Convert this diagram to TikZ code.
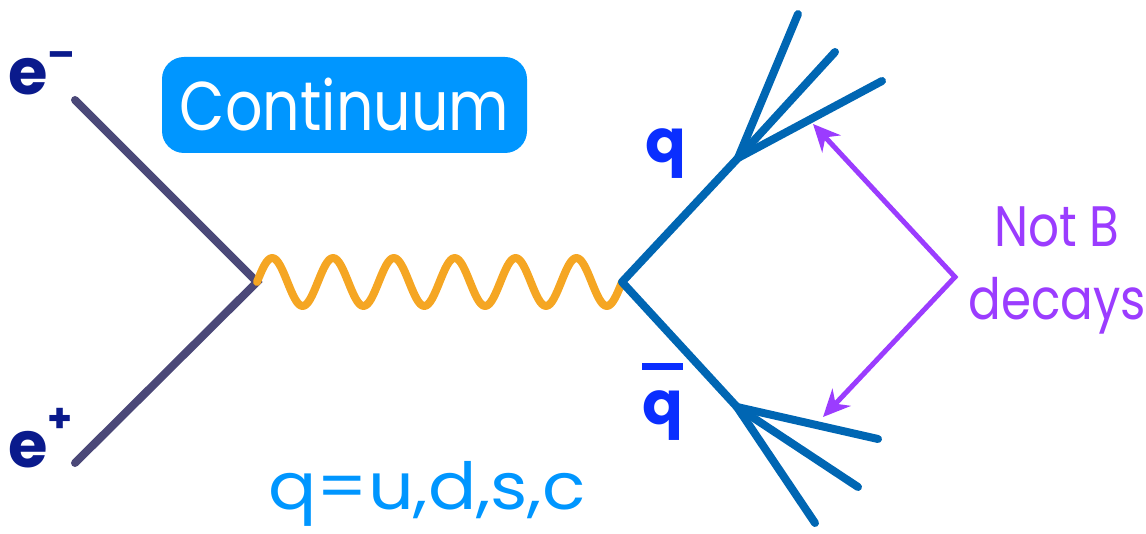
\documentclass[tikz,border=0pt]{standalone}
\usepackage{fontspec}
\setmainfont{Poppins}
\newfontfamily\narrowfont{Poppins}[FakeStretch=0.85]
\newfontfamily\widefont{Poppins}[FakeStretch=1.1]
\usetikzlibrary{arrows.meta}
\definecolor{lepton}{HTML}{4B4878}
\definecolor{boson}{HTML}{F5A623}
\definecolor{quark}{HTML}{0066B3}
\definecolor{qink}{HTML}{0A2EFF}
\definecolor{eink}{HTML}{0A1A8C}
\definecolor{contblue}{HTML}{0096FF}
\definecolor{notbink}{HTML}{9B3CFF}
\tikzset{
  fermion/.style={line width=8pt,line cap=round,lepton},
  quarkline/.style={line width=8pt,line cap=round,line join=round,quark},
  photonline/.style={line width=8pt,line cap=round,line join=round,boson},
  pointer/.style={{Stealth[length=27pt,width=25pt]}-{Stealth[length=27pt,width=25pt]},
    line width=5pt,notbink},
  elab/.style={font=\fontsize{64}{64}\selectfont\bfseries,text=eink,inner sep=0pt,anchor=base west},
  qlab/.style={font=\fontsize{60}{72}\selectfont\bfseries,text=qink,inner sep=0pt},
  tag/.style={fill=contblue,rounded corners=22pt,minimum width=365pt,minimum height=96pt,
    text=white,font=\narrowfont\fontsize{69}{69}\selectfont,inner sep=0pt},
  flavours/.style={font=\widefont\fontsize{65}{65}\selectfont,text=contblue,inner sep=0pt,anchor=base west},
  notb/.style={font=\narrowfont\fontsize{57}{73}\selectfont,text=notbink,inner sep=0pt,align=center}
}
\begin{document}
\begin{tikzpicture}[x=1pt,y=-1pt]
  \useasboundingbox (0,0) rectangle (1146,534);
  % vertices
  \coordinate (ein) at (75,100);
  \coordinate (pin) at (75,463);
  \coordinate (v1) at (257,282);
  \coordinate (v2) at (622,282);
  \coordinate (j1) at (738,158);
  \coordinate (j2) at (737,407);
  % jets
  \coordinate (ja) at (798,14);
  \coordinate (jb) at (835,52);
  \coordinate (jc) at (882,81);
  \coordinate (jd) at (878,439);
  \coordinate (je) at (858,487);
  \coordinate (jf) at (815,523);
  % annotation
  \coordinate (tipu) at (813,124);
  \coordinate (elbow) at (955,277);
  \coordinate (tipl) at (823,417);

  \draw[fermion] (ein) -- (v1) -- (pin);
  \draw[photonline] (v1) \foreach \k in {1,...,6}{
    sin ++(15.21,-24) cos ++(15.21,24) sin ++(15.21,24) cos ++(15.21,-24)} -- (v2);
  \draw[quarkline] (j1) -- (v2) -- (j2);
  \foreach \j in {ja,jb,jc} \draw[quarkline] (j1) -- (\j);
  \foreach \j in {jd,je,jf} \draw[quarkline] (j2) -- (\j);
  \draw[pointer] (tipu) -- (elbow) -- (tipl);

  \node[elab] (eminus) at (8,95) {e\raisebox{26pt}{\fontsize{40}{40}\selectfont –}};
  \node[elab] (eplus) at (8,467) {e\raisebox{35pt}{\fontsize{40}{40}\selectfont +}};
  \node[qlab,anchor=base west] (qlabel) at (645,163) {q};
  \node[qlab,anchor=south west,align=center] (qbarlabel) at (642,441) {\rule{41pt}{7pt}\\[-17.5pt]q};
  \node[tag] (cont) at (344.5,105) {Continuum};
  \node[flavours] (flav) at (268,509) {q=u,d,s,c};
  \node[notb,anchor=north] (notb) at (1057,207) {Not B\\decays};
\end{tikzpicture}
\end{document}
